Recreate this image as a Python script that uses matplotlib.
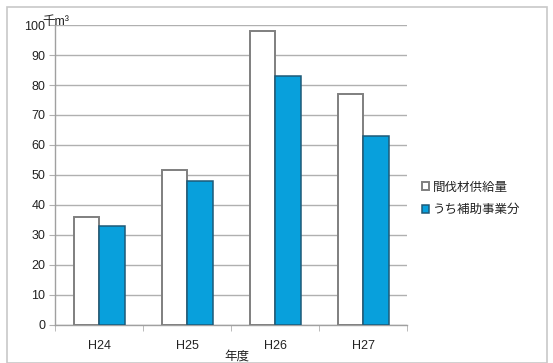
import numpy as np
import matplotlib
matplotlib.use('Agg')
import matplotlib.pyplot as plt
from matplotlib.patches import Rectangle

plt.rcParams['font.family'] = ['Liberation Sans', 'Noto Sans CJK JP', 'DejaVu Sans']

nendo = ['H24', 'H25', 'H26', 'H27']
kyokyu = [36, 51.5, 98, 77]      # 間伐材供給量
hojo = [33, 48, 83, 63]          # うち補助事業分

fig = plt.figure(figsize=(5.53, 3.63), dpi=100)
ax = fig.add_axes([0.0995, 0.105, 0.637, 0.826])

x = np.arange(len(nendo))
w = 0.29
ax.bar(x - w / 2, kyokyu, w, color='white', edgecolor='#7f7f7f', linewidth=1.4,
       label='間伐材供給量', zorder=3)
ax.bar(x + w / 2, hojo, w, color='#08a0dc', edgecolor='#1e5a78', linewidth=1.1,
       label='うち補助事業分', zorder=3)

ax.set_xlim(-0.5, 3.5)
ax.set_ylim(0, 100)
ax.set_yticks(range(0, 101, 10))
ax.set_xticks(x)
ax.set_xticklabels(nendo)
ax.set_xticks(np.arange(-0.5, 3.6, 1), minor=True)
ax.yaxis.grid(True, color='#b0b0b0', linewidth=1.0, zorder=0)
ax.tick_params(axis='y', length=4, color='#b0b0b0', labelsize=9, labelcolor='#222222', pad=3)
ax.tick_params(axis='x', which='major', length=0, labelsize=9, labelcolor='#222222', pad=11)
ax.tick_params(axis='x', which='minor', length=4, color='#b0b0b0')
for s in ['top', 'right']:
    ax.spines[s].set_visible(False)
for s in ['left', 'bottom']:
    ax.spines[s].set_color('#a0a0a0')
    ax.spines[s].set_linewidth(1.0)

ax.text(-0.037, 1.01, '千m³', transform=ax.transAxes, fontsize=9, color='#222222',
        ha='left', va='center')
fig.text(0.428, 0.017, '年度', fontsize=9, color='#222222', ha='center', va='center')

leg = ax.legend(loc='center left', bbox_to_anchor=(1.01, 0.42), frameon=False,
                fontsize=9, handlelength=0.55, handleheight=0.55, handletextpad=0.35,
                labelspacing=0.85)
for t in leg.get_texts():
    t.set_color('#222222')

fig.patches.append(Rectangle((0.012, 0.0), 0.978, 0.98, transform=fig.transFigure,
                             fill=False, edgecolor='#c8c8c8', linewidth=1.2))

fig.savefig('out.png', dpi=100)
